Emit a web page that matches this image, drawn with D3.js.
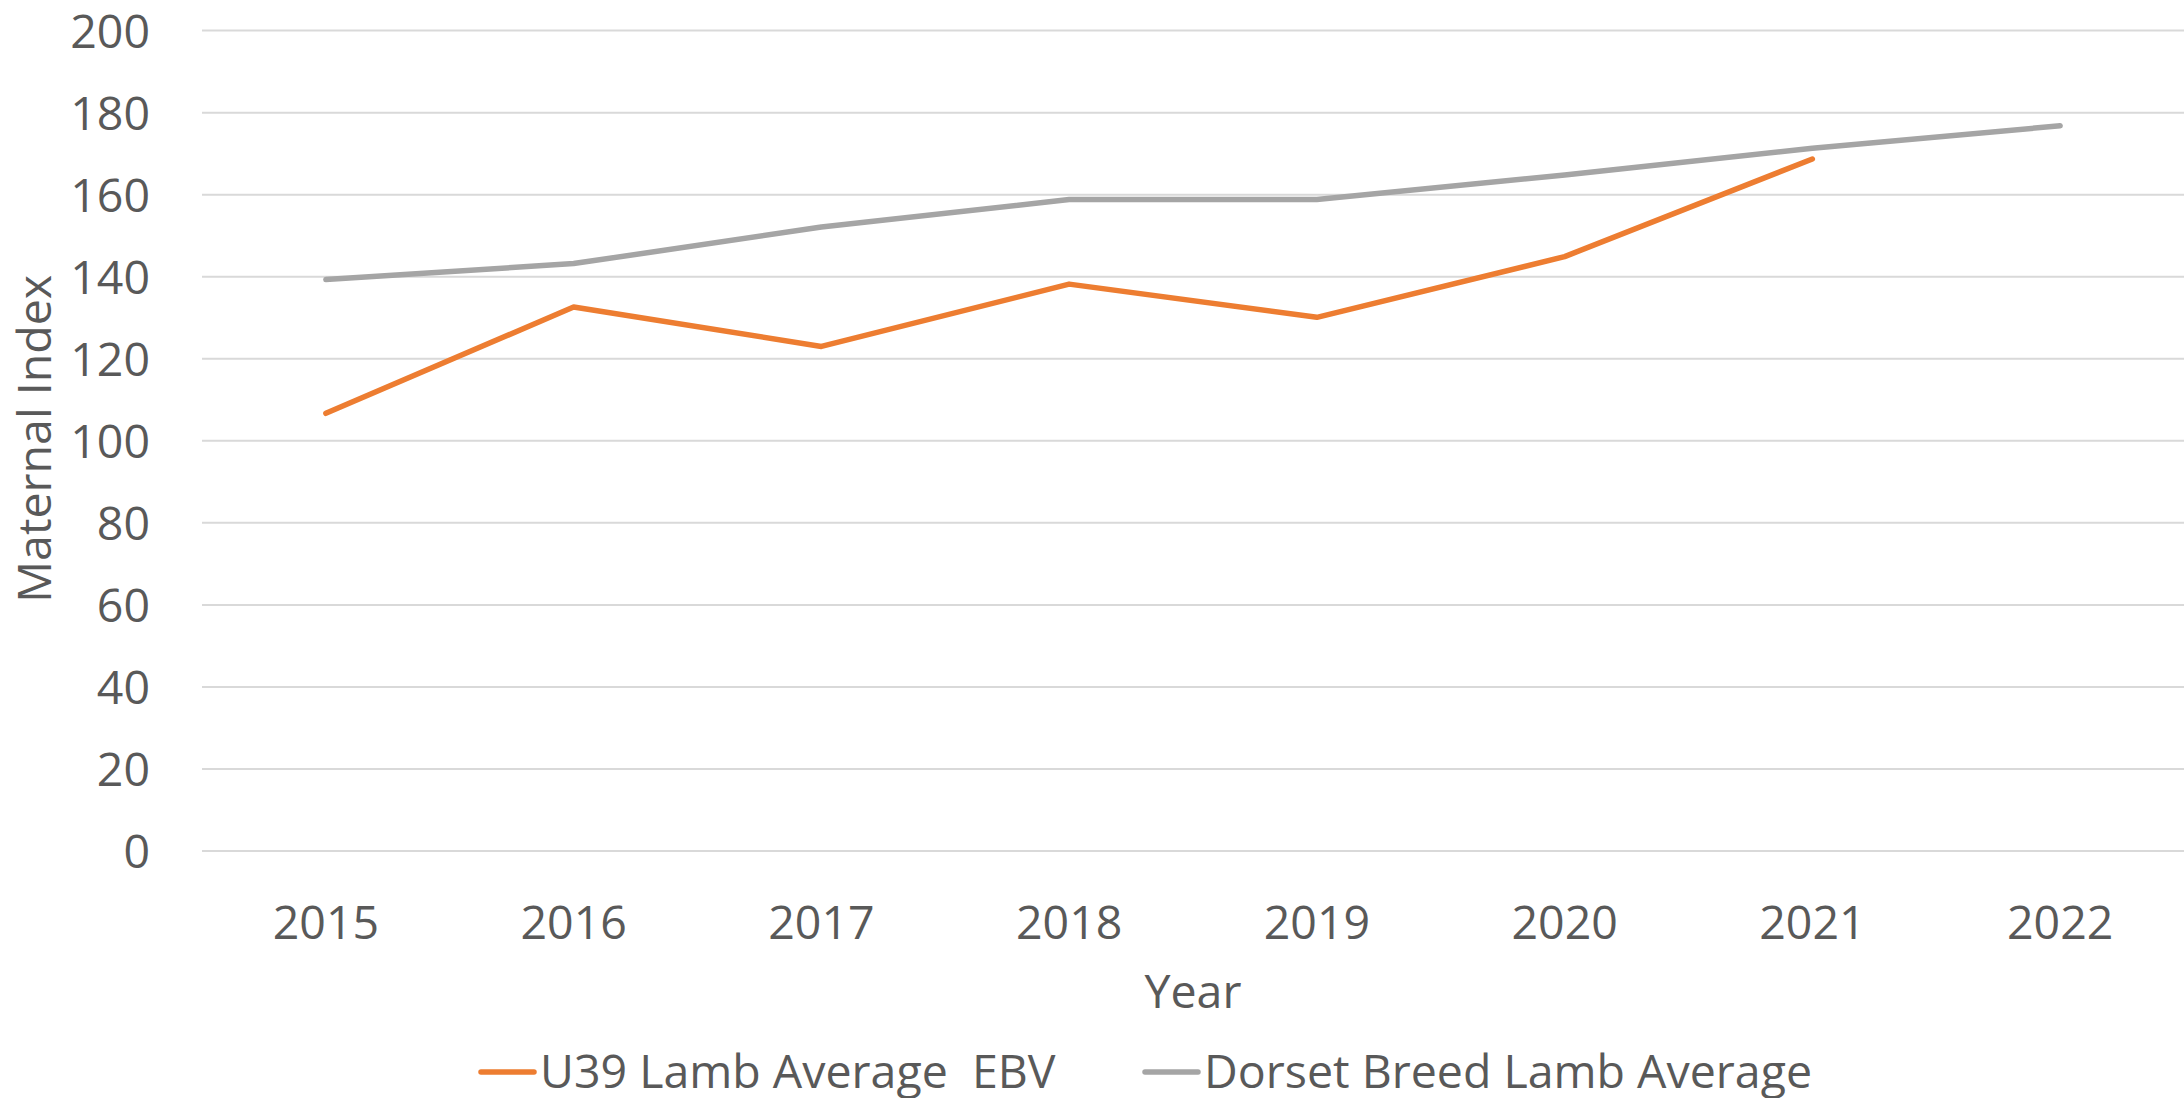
<!DOCTYPE html>
<html>
<head>
<meta charset="utf-8">
<script src="https://cdn.jsdelivr.net/npm/d3@7"></script>
<style>
  html, body { margin: 0; padding: 0; background: #fff; overflow: hidden; }
  text { font-family: "Open Sans", "Noto Sans", sans-serif; fill: #595959; }
</style>
</head>
<body>
<script>
// data
const years = ["2015", "2016", "2017", "2018", "2019", "2020", "2021", "2022"];
const u39Lamb = [106.7, 132.6, 123.0, 138.2, 130.1, 144.9, 168.7, null];
const dorsetBreed = [139.3, 143.2, 152.1, 158.8, 158.8, 164.8, 171.3, 176.8];
const yTicks = [0, 20, 40, 60, 80, 100, 120, 140, 160, 180, 200];
const seriesNames = ["U39 Lamb Average  EBV", "Dorset Breed Lamb Average"];
const seriesColors = ["#ED7D31", "#A5A5A5"];

// canvas
const width = 2184, height = 1098, fontSize = 46.5,
      plotLeft = 202, plotRight = 2184, plotTop = 30.6, plotBottom = 851,
      svg = d3.select("body").append("svg")
              .attr("width", width)
              .attr("height", height),
      xScale = d3.scaleBand()
                 .domain(years)
                 .range([plotLeft, plotRight]),
      yScale = d3.scaleLinear()
                 .domain([0, 200])
                 .range([plotBottom, plotTop]);

// gridlines
svg.append("g")
   .selectAll("line")
   .data(yTicks)
   .enter()
   .append("line")
   .attr("x1", plotLeft)
   .attr("x2", plotRight)
   .attr("y1", d => yScale(d))
   .attr("y2", d => yScale(d))
   .attr("stroke", "#D9D9D9")
   .attr("stroke-width", 2);

// y axis labels
const yAxis = svg.append("g")
   .attr("transform", `translate(${plotLeft - 52},0)`)
   .call(d3.axisLeft(yScale).tickValues(yTicks).tickSize(0).tickPadding(0));
yAxis.select(".domain").remove();
yAxis.selectAll("text")
     .attr("font-size", fontSize)
     .attr("fill", "#595959")
     .attr("font-family", "Open Sans")
     .attr("dy", "0.36em");

// x axis labels
const xAxis = svg.append("g")
   .attr("transform", `translate(0,${plotBottom})`)
   .call(d3.axisBottom(xScale).tickSize(0).tickPadding(0));
xAxis.select(".domain").remove();
xAxis.selectAll("text")
     .attr("font-size", fontSize)
     .attr("fill", "#595959")
     .attr("font-family", "Open Sans")
     .attr("y", 88)
     .attr("dy", 0);

// axis titles
svg.append("text")
   .attr("x", (plotLeft + plotRight) / 2)
   .attr("y", 1008)
   .attr("text-anchor", "middle")
   .attr("font-size", fontSize)
   .text("Year");

svg.append("text")
   .attr("transform", `translate(51,${(plotTop + plotBottom) / 2 - 2}) rotate(-90)`)
   .attr("text-anchor", "middle")
   .attr("font-size", fontSize)
   .text("Maternal Index");

// lines
const line = d3.line()
   .defined(d => d[1] !== null)
   .x(d => xScale(d[0]) + xScale.bandwidth() / 2)
   .y(d => yScale(d[1]));

[u39Lamb, dorsetBreed].forEach((series, i) => {
  svg.append("path")
     .datum(years.map((y, j) => [y, series[j]]))
     .attr("d", line)
     .attr("fill", "none")
     .attr("stroke", seriesColors[i])
     .attr("stroke-width", 5.5)
     .attr("stroke-linecap", "round")
     .attr("stroke-linejoin", "round");
});

// legend
const legendX = [481, 1145];
seriesNames.forEach((name, i) => {
  const g = svg.append("g").attr("transform", `translate(${legendX[i]},1072)`);
  g.append("line")
   .attr("x1", 0).attr("x2", 53)
   .attr("stroke", seriesColors[i])
   .attr("stroke-width", 5.5)
   .attr("stroke-linecap", "round");
  g.append("text")
   .attr("x", 59)
   .attr("y", 16)
   .attr("font-size", fontSize)
   .style("white-space", "pre")
   .text(name);
});
</script>
</body>
</html>
